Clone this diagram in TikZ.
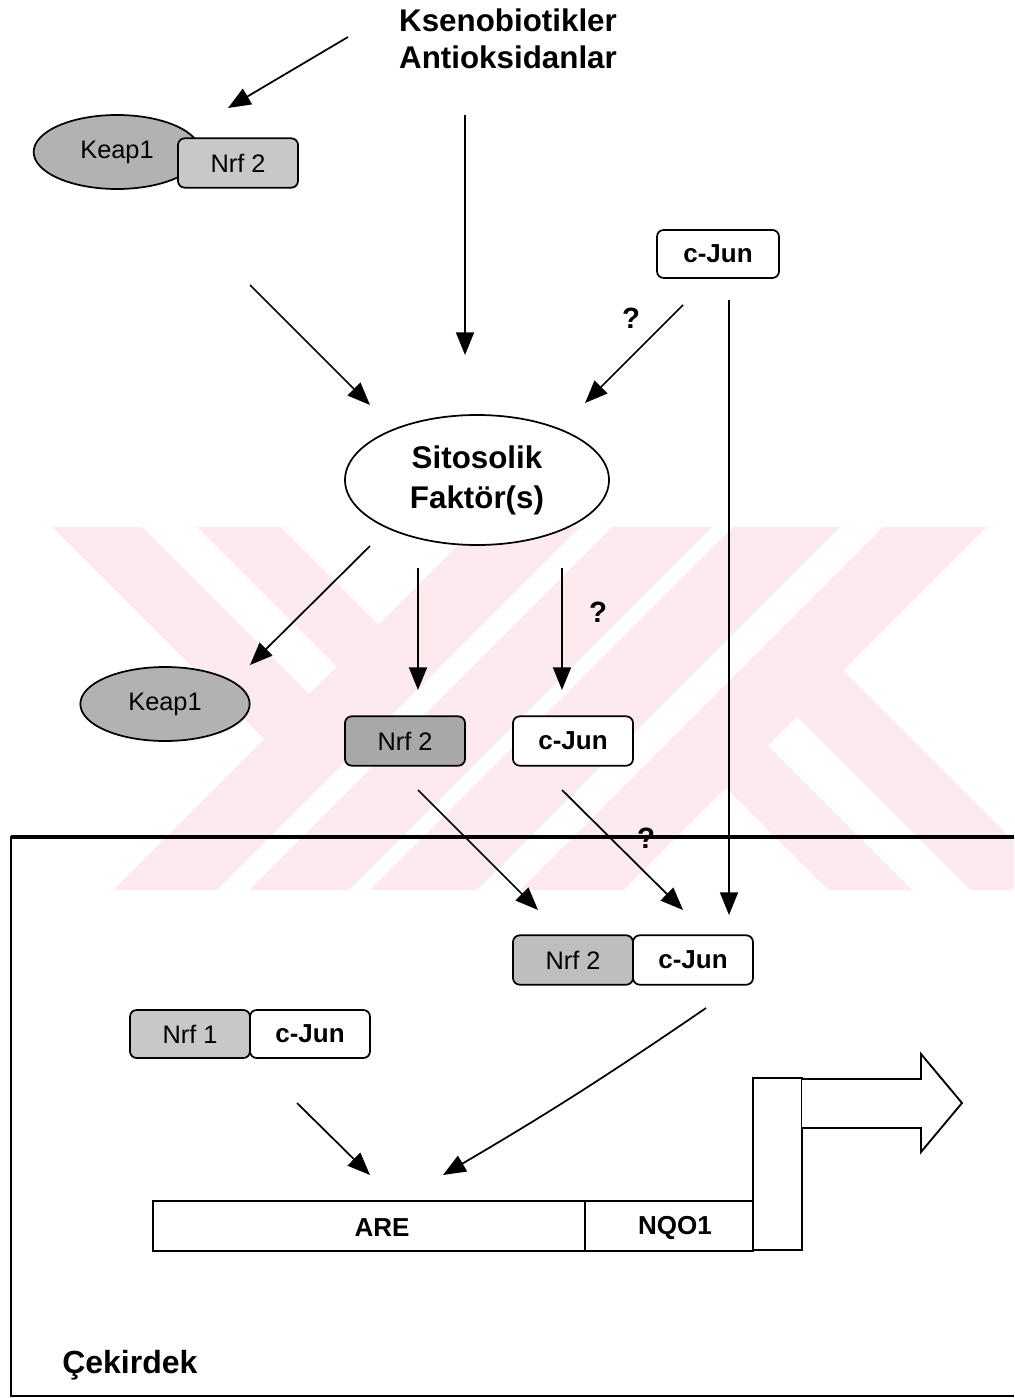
\documentclass[tikz,border=0pt]{standalone}
\usepackage{fontspec}
\setmainfont{Liberation Sans}
\usetikzlibrary{arrows.meta,shapes.geometric}
\definecolor{wm}{RGB}{253,234,238}
\definecolor{grayA}{RGB}{178,178,178}
\definecolor{grayB}{RGB}{200,200,200}
\definecolor{grayC}{RGB}{168,168,168}
\definecolor{grayD}{RGB}{190,190,190}
\begin{document}
\begin{tikzpicture}[x=0.75pt,y=-0.75pt,
  conn/.style={line width=1.3pt,-{Triangle[length=17pt,width=13.5pt]}},
  box/.style={draw,line width=1.3pt,rounded corners=5pt,minimum width=90pt,minimum height=37pt,inner sep=0pt,font=\fontsize{19}{22}\selectfont},
  jbox/.style={box,fill=white,font=\fontsize{19.5}{22}\selectfont\bfseries},
  kell/.style={ellipse,draw,line width=1.3pt,fill=grayA,inner sep=0pt,font=\fontsize{19}{22}\selectfont},
  plainbox/.style={draw,line width=1.4pt,inner sep=0pt},
  genetext/.style={font=\fontsize{19.5}{22}\selectfont\bfseries,inner sep=0pt},
  qmark/.style={font=\fontsize{22}{24}\selectfont\bfseries,inner sep=0pt},
  bigtext/.style={font=\fontsize{23.5}{28}\selectfont\bfseries,align=center,inner sep=0pt}]
\useasboundingbox (0,0) rectangle (1014,1398);
% watermark
\begin{scope}
\clip (0,527) rectangle (1014,890);
% left shape: full "/" stem and upper "\" arm
\fill[wm] (476,527) -- (580,527) -- (217,890) -- (113,890) -- cycle;
\fill[wm] (612,527) -- (712,527) -- (349,890) -- (249,890) -- cycle;
\fill[wm] (52,527) -- (142,527) -- (336,721) -- (291,766) -- cycle;
\fill[wm] (197,527) -- (281,527) -- (405.5,651.5) -- (363.5,693.5) -- cycle;
% right shape: full "/" stem and lower "\" arm
\fill[wm] (733,527) -- (840,527) -- (477,890) -- (370,890) -- cycle;
\fill[wm] (883,527) -- (987,527) -- (624,890) -- (520,890) -- cycle;
\fill[wm] (700,762) -- (742,720) -- (912,890) -- (828,890) -- cycle;
\fill[wm] (771,691) -- (817.5,644.5) -- (1063,890) -- (970,890) -- cycle;
\end{scope}
% nucleus
\draw[line width=3pt] (11,837) -- (1014,837);
\draw[line width=2pt] (11,836) -- (11,1396) -- (1014,1396);
\node[font=\fontsize{24}{28}\selectfont\bfseries,anchor=base west,inner sep=0pt] (cek) at (62,1373) {Çekirdek};
% title
\node[bigtext] (title) at (508,39) {Ksenobiotikler\\Antioksidanlar};
% top complex
\node[kell,minimum width=125pt,minimum height=55.5pt] (keap1a) at (117,152) {Keap1};
\node[box,fill=grayB] (nrf2a) at (238,163) {Nrf 2};
\node[jbox,minimum width=91.5pt,minimum height=36pt] (cjunA) at (718,254) {c-Jun};
% cytosolic factor
\node[ellipse,draw,fill=white,line width=1.3pt,minimum width=198pt,minimum height=97.5pt,inner sep=0pt,
      font=\fontsize{23.5}{30}\selectfont\bfseries,align=center] (sito) at (477,480) {Sitosolik\\Faktör(s)};
% released
\node[kell,minimum width=127pt,minimum height=55.5pt] (keap1b) at (165,704) {Keap1};
\node[box,fill=grayC] (nrf2b) at (405,741) {Nrf 2};
\node[jbox] (cjunB) at (573,741) {c-Jun};
% nuclear complexes
\node[box,fill=grayD] (nrf2c) at (573,960) {Nrf 2};
\node[jbox] (cjunC) at (693,960) {c-Jun};
\node[box,fill=grayB,minimum height=36pt] (nrf1) at (190,1034) {Nrf 1};
\node[jbox,minimum height=36pt] (cjunD) at (310,1034) {c-Jun};
% gene
\node[plainbox,minimum width=324pt,minimum height=37.5pt] (are) at (369,1226) {};
\node[plainbox,minimum width=126pt,minimum height=37.5pt] (nqo) at (669,1226) {};
\node[genetext] (aretxt) at (382,1228) {ARE};
\node[genetext] (nqotxt) at (675,1228) {NQO1};
\node[plainbox,minimum width=36.75pt,minimum height=129pt] (prom) at (777.5,1164) {};
\draw[line width=1.4pt,fill=white] (802,1079) -- (921,1079) -- (921,1054) -- (962,1103) -- (921,1152) -- (921,1128) -- (802,1128);
% arrow end points
\coordinate (a1s) at (348,37);  \coordinate (a1e) at (228,108);
\coordinate (a2s) at (465,115); \coordinate (a2e) at (465,355);
\coordinate (a3s) at (250,285); \coordinate (a3e) at (370,405);
\coordinate (a4s) at (683,305); \coordinate (a4e) at (585,403);
\coordinate (a5s) at (729,300); \coordinate (a5e) at (729,915);
\coordinate (a6s) at (370,546); \coordinate (a6e) at (250,665);
\coordinate (a7s) at (418,568); \coordinate (a7e) at (418,690);
\coordinate (a8s) at (562,568); \coordinate (a8e) at (562,690);
\coordinate (a9s) at (418,790); \coordinate (a9e) at (538,910);
\coordinate (a10s) at (562,790); \coordinate (a10e) at (683,910);
\coordinate (a11s) at (706,1008); \coordinate (a11e) at (443,1175);
\coordinate (a12s) at (297,1103); \coordinate (a12e) at (370,1175);
\draw[conn] (a1s) -- (a1e);
\draw[conn] (a2s) -- (a2e);
\draw[conn] (a3s) -- (a3e);
\draw[conn] (a4s) -- (a4e);
\draw[conn] (a5s) -- (a5e);
\draw[conn] (a6s) -- (a6e);
\draw[conn] (a7s) -- (a7e);
\draw[conn] (a8s) -- (a8e);
\draw[conn] (a9s) -- (a9e);
\draw[conn] (a10s) -- (a10e);
\draw[conn] (a11s) to[bend left=2] (a11e);
\draw[conn] (a12s) -- (a12e);
% question marks
\node[qmark] (q1) at (631,318) {?};
\node[qmark] (q2) at (598,612) {?};
\node[qmark] (q3) at (646,838) {?};
\end{tikzpicture}
\end{document}
